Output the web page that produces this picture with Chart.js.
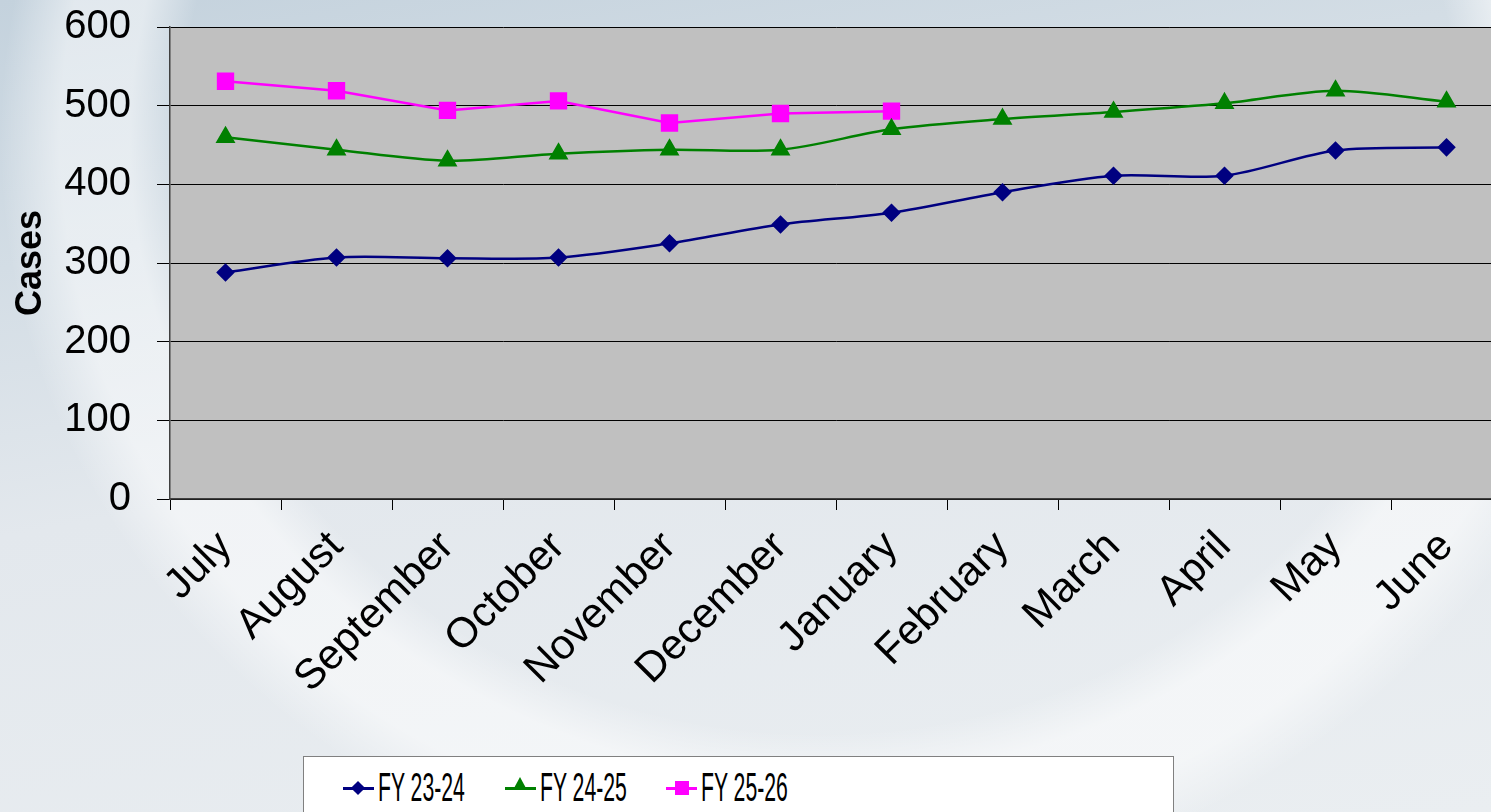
<!DOCTYPE html>
<html lang="en">
<head>
  <meta charset="UTF-8" />
  <title>Cases by month</title>
  <script src="https://cdn.jsdelivr.net/npm/chart.js"></script>
  <style>
    html, body { margin: 0; padding: 0; overflow: hidden; }
    body {
      width: 1491px; height: 812px; position: relative;
      font-family: 'Liberation Sans', Arial, sans-serif;
      background:
        radial-gradient(ellipse 820px 760px at 820px 140px, rgba(255,255,255,0) 0, rgba(255,255,255,0) 640px, rgba(255,255,255,.5) 690px, rgba(255,255,255,.5) 760px, rgba(255,255,255,0) 820px),
        linear-gradient(170deg, #c4d2dd 0%, #d3dde5 25%, #e3e8ed 50%, #eaeef1 100%);
    }
    .wrap { position: absolute; left: 0; top: 0; width: 1520px; height: 812px; }
    /* legend */
    .legend {
      position: absolute; left: 303px; top: 756px; width: 871px; height: 70px;
      background: #fff; border: 1px solid #808080; box-sizing: border-box;
    }
    .item { position: absolute; top: 14px; height: 34px; }
    .item .ln { position: absolute; top: 16px; left: 0; width: 31px; height: 3px; }
    .item .mk { position: absolute; }
    .item .tx {
      position: absolute; left: 35px; top: -5px; font-size: 40px; line-height: 42px;
      transform: scaleX(0.53); transform-origin: 0 50%; white-space: nowrap; color: #000;
    }
  </style>
</head>
<body>
  <div class="wrap"><canvas id="chart" width="1520" height="812"></canvas></div>

  <div class="legend">
    <div class="item" style="left:39px">
      <div class="ln" style="background:#000080"></div>
      <div class="mk" style="left:10px;top:12px;width:10px;height:10px;background:#000080;transform:rotate(45deg)"></div>
      <div class="tx">FY 23-24</div>
    </div>
    <div class="item" style="left:201px">
      <div class="ln" style="background:#008000"></div>
      <div class="mk" style="left:8px;top:6px;width:0;height:0;border-left:7px solid transparent;border-right:7px solid transparent;border-bottom:13px solid #008000"></div>
      <div class="tx">FY 24-25</div>
    </div>
    <div class="item" style="left:362px">
      <div class="ln" style="background:#ff00ff"></div>
      <div class="mk" style="left:9px;top:10px;width:14px;height:14px;background:#ff00ff"></div>
      <div class="tx">FY 25-26</div>
    </div>
  </div>

  <script>
    // data
    const months = ['July', 'August', 'September', 'October', 'November', 'December',
                    'January', 'February', 'March', 'April', 'May', 'June'];
    const fy2324 = [288, 307, 306, 307, 325, 349, 364, 390, 411, 411, 443, 447];
    const fy2425 = [460, 444, 430, 439, 444, 444, 470, 483, 492, 503, 519, 505];
    const fy2526 = [531, 519, 494, 506, 478, 490, 493];
    const yMax = 600;
    const yStep = 100;

    const plotBg = {
      id: 'plotBg',
      beforeDraw(chart) {
        const { ctx, chartArea: a } = chart;
        ctx.save();
        ctx.fillStyle = '#c0c0c0';
        ctx.fillRect(a.left, a.top, a.right - a.left, a.bottom - a.top);
        ctx.restore();
      }
    };

    const font = 'Liberation Sans';

    new Chart(document.getElementById('chart'), {
      type: 'line',
      data: {
        labels: months,
        datasets: [
          {
            label: 'FY 23-24', data: fy2324,
            borderColor: '#000080', backgroundColor: '#000080',
            pointStyle: 'rectRot', pointRadius: 7.5, borderWidth: 2.5, tension: 0.3
          },
          {
            label: 'FY 24-25', data: fy2425,
            borderColor: '#008000', backgroundColor: '#008000',
            pointStyle: 'triangle', pointRadius: 9, borderWidth: 2.5, tension: 0.3
          },
          {
            label: 'FY 25-26', data: fy2526,
            borderColor: '#ff00ff', backgroundColor: '#ff00ff',
            pointStyle: 'rect', pointRadius: 10.5, borderWidth: 2.5, tension: 0
          }
        ]
      },
      options: {
        responsive: false,
        animation: false,
        devicePixelRatio: 1,
        layout: { padding: { top: 27, right: 18, left: 0, bottom: 0 } },
        plugins: {
          legend: { display: false },
          tooltip: { enabled: false }
        },
        elements: { point: { borderWidth: 0 } },
        scales: {
          x: {
            offset: true,
            grid: { offset: true, drawOnChartArea: false, drawTicks: true, tickLength: 11, color: '#000' },
            border: { display: true, color: '#404040', width: 1.5 },
            ticks: {
              maxRotation: 45, minRotation: 45, autoSkip: false,
              color: '#000', padding: 12,
              font: { family: font, size: 42 }
            },
            afterFit(s) { s.height = 313; s.paddingLeft = 0; s.paddingRight = 0; }
          },
          y: {
            min: 0, max: yMax,
            grid: { color: '#000', lineWidth: 1, tickLength: 13 },
            border: { display: true, color: '#404040', width: 1.5 },
            ticks: {
              stepSize: yStep,
              color: '#000', padding: 26,
              font: { family: font, size: 40 }
            },
            title: {
              display: true, text: 'Cases', color: '#000',
              padding: { top: 9, bottom: 0 },
              font: { family: font, size: 36, weight: 'bold' }
            },
            afterFit(s) { s.width = 170; s.paddingTop = 0; s.paddingBottom = 0; }
          }
        }
      },
      plugins: [plotBg]
    });
  </script>
</body>
</html>
